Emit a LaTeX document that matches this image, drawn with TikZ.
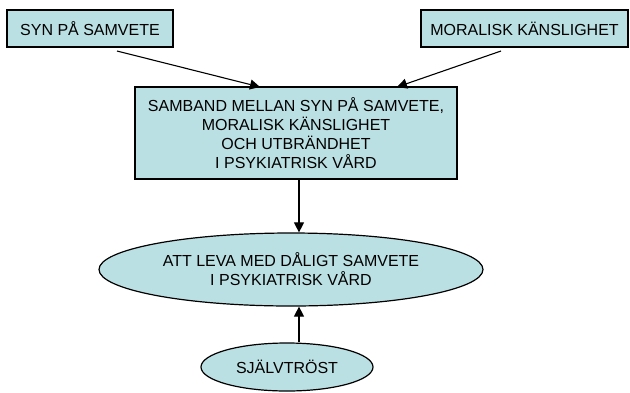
\documentclass[tikz,border=0pt]{standalone}
\usepackage{fontspec}
\setmainfont{Liberation Sans}
\usetikzlibrary{shapes.geometric,arrows.meta}
\definecolor{boxfill}{RGB}{187,224,227}
\tikzset{
  box/.style={draw=black, fill=boxfill, line width=1.2pt, inner sep=0pt, align=center,
    font=\fontsize{16}{19}\selectfont},
  oval/.style={box, ellipse},
  conn/.style={line width=1.1pt, -{Triangle[length=10pt,width=10pt]}}
}
\begin{document}
\begin{tikzpicture}[x=1pt,y=-1pt]
\useasboundingbox (0,0) rectangle (630,392);
\node[box, minimum width=166pt, minimum height=37pt] (syn) at (90,28.5) {SYN PÅ SAMVETE};
\node[box, minimum width=207pt, minimum height=37pt] (mor) at (524.5,28.5) {MORALISK KÄNSLIGHET};
\node[box, minimum width=322pt, minimum height=92pt] (samb) at (296,133)
  {SAMBAND MELLAN SYN PÅ SAMVETE,\\MORALISK KÄNSLIGHET\\OCH UTBRÄNDHET\\I PSYKIATRISK VÅRD};
\node[oval, minimum width=384pt, minimum height=73pt] (leva) at (291,269.5)
  {ATT LEVA MED DÅLIGT SAMVETE\\I PSYKIATRISK VÅRD};
\node[oval, minimum width=172pt, minimum height=48pt] (tro) at (287,367) {SJÄLVTRÖST};
\coordinate (s1) at (117,51);
\coordinate (e1) at (260,87);
\coordinate (s2) at (501,51);
\coordinate (e2) at (397,87);
\draw[conn] (s1) -- (e1);
\draw[conn] (s2) -- (e2);
\draw[conn] (samb.south -| 299,0) -- (leva.north -| 299,0);
\draw[conn] (tro.north -| 299,0) -- (leva.south -| 299,0);
\end{tikzpicture}
\end{document}
